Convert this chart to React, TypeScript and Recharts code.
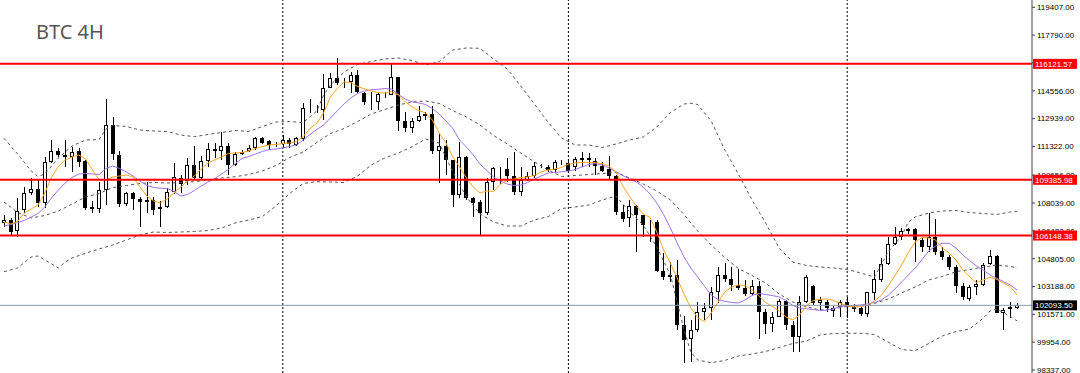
import React from "react";
import { ComposedChart, Bar, Line, XAxis, YAxis, ReferenceLine } from "recharts";

// BTC 4H candles (oldest first)
const open = [
  106877, 107022, 106383, 107632, 108602, 108835, 108039, 110438, 111077, 110827,
  110711, 111077, 110479, 107789, 107673, 108765, 112570, 110827, 107963, 108620,
  108254, 108097, 108213, 107673, 107808, 108660, 109462, 109288, 110246, 109491,
  110496, 111176, 111077, 111350, 110246, 110874, 111059, 111216, 111797, 111640,
  111466, 111437, 111716, 111408, 111785, 113540, 113499, 113441, 114748, 115283,
  114992, 115050, 115474, 114411, 113923, 113906, 114370, 114341, 115341, 112773,
  112413, 112820, 113075, 113180, 111071, 111367, 110537, 108503, 110711, 108312,
  108079, 107475, 109276, 110055, 109985, 109590, 108695, 109375, 109578, 110188,
  110147, 109938, 110403, 110375, 110130, 110635, 110635, 110496, 110188, 109996,
  109607, 107533, 107150, 107865, 107342, 106860, 106952, 104106, 103723, 103856,
  100952, 100138, 100661, 101724, 101922, 102886, 103856, 103595, 103304, 103101,
  102735, 103217, 101707, 101010, 101434, 102346, 100952, 100254, 102305, 103188,
  102201, 102288, 101736, 102026, 102270, 102015, 101922, 101591, 102794, 103566,
  104495, 105657, 106081, 106395, 106511, 105890, 105500, 106046, 105251, 104920,
  104338, 103217, 102445, 103142, 103258, 104495, 104960, 101631, 101852, 101922,
];
const high = [
  107342, 107150, 108329, 108986, 109474, 109375, 110711, 111698, 111216, 111698,
  111309, 111216, 110537, 108155, 109259, 114051, 113034, 111088, 108695, 108695,
  108405, 109276, 108405, 108155, 108893, 110345, 109665, 110635, 111350, 110769,
  111507, 111507, 112163, 111495, 111001, 111118, 111408, 111890, 111890, 111698,
  111582, 111989, 111797, 111873, 113830, 114080, 113732, 115521, 115573, 116444,
  115317, 115620, 115765, 114504, 114458, 114504, 114504, 116142, 115376, 113325,
  112959, 113656, 113342, 113656, 112088, 111698, 110560, 111600, 110740, 108405,
  108184, 109462, 110147, 110101, 110653, 111030, 110113, 109840, 110438, 110333,
  110246, 110537, 110537, 110537, 110682, 111019, 110926, 110635, 110438, 110769,
  109665, 107923, 108213, 107923, 107360, 107051, 107051, 105152, 104629, 104728,
  101475, 101242, 102305, 102212, 103177, 104321, 104536, 104321, 104187, 103566,
  103566, 103508, 101881, 101724, 102445, 102404, 101184, 102636, 103856, 103275,
  102596, 102404, 102055, 102404, 102596, 102172, 102015, 102886, 104147, 104826,
  106081, 106662, 106569, 106587, 106569, 106081, 107475, 107092, 105483, 105018,
  104437, 103374, 103275, 103566, 104536, 105309, 105018, 101922, 102305, 102212,
];
const low = [
  106662, 106180, 106081, 107440, 108503, 107824, 107731, 110345, 110728, 110147,
  109857, 110147, 107632, 107440, 107440, 107923, 110537, 107824, 107882, 107632,
  106662, 107440, 107342, 106662, 107731, 108562, 108602, 109084, 109346, 109375,
  110147, 110635, 110537, 109665, 110159, 110798, 111001, 111118, 111437, 111118,
  111292, 111216, 111216, 111321, 111669, 113249, 113249, 112860, 114702, 114893,
  114702, 114400, 114411, 113732, 113470, 113441, 114121, 114312, 112250, 112134,
  112088, 112761, 112860, 110897, 109183, 109694, 107835, 108312, 108213, 107243,
  106180, 107342, 108794, 109142, 109276, 108503, 108474, 109317, 109474, 110043,
  109857, 109857, 110246, 109764, 109869, 110147, 110147, 109665, 109857, 109375,
  107342, 106952, 106627, 105210, 106081, 105791, 104048, 103566, 103467, 100661,
  98762, 98820, 100562, 101242, 101242, 102212, 103467, 102927, 102985, 102636,
  102694, 100138, 100429, 100562, 101399, 100661, 99383, 99401, 102212, 102114,
  101823, 101724, 101434, 101434, 101341, 101724, 101475, 101434, 102404, 103467,
  104437, 105599, 105890, 106238, 104629, 105210, 105210, 105018, 104728, 104147,
  102793, 102404, 102363, 102694, 103217, 104420, 101631, 100661, 101341, 101863,
];
const close = [
  107022, 106372, 107574, 108602, 108835, 108021, 110438, 111077, 110798, 110711,
  111001, 110438, 107731, 107673, 108765, 112570, 110856, 107963, 108620, 108254,
  108097, 108213, 107632, 107824, 108660, 109520, 109171, 110246, 109462, 110496,
  111176, 111077, 111332, 110246, 110874, 111019, 111216, 111797, 111524, 111379,
  111379, 111698, 111437, 111797, 113540, 113499, 113412, 114748, 115283, 114992,
  115050, 115474, 114504, 113923, 113888, 114370, 114341, 115341, 112802, 112413,
  112820, 113075, 113180, 111071, 111367, 110537, 108503, 110711, 108312, 108039,
  107440, 109276, 110055, 109985, 109590, 108695, 109375, 109578, 110188, 110147,
  109938, 110403, 110420, 109915, 110577, 110537, 110508, 110159, 109915, 109607,
  107533, 107109, 107865, 107342, 106761, 106952, 104106, 103723, 103856, 100952,
  100080, 100661, 101724, 101922, 102886, 103856, 103595, 103275, 103072, 102735,
  103217, 101707, 101010, 101434, 102346, 100952, 100237, 102305, 103723, 102212,
  102404, 101922, 101939, 102259, 101997, 101852, 101573, 102840, 103607, 104495,
  105657, 106081, 106412, 106511, 105890, 105465, 106064, 105210, 104902, 104338,
  103217, 102596, 103142, 103316, 104437, 104960, 101666, 101823, 101979, 102093.5,
];

// orange (fast) and purple (slow) moving averages, one reading per candle
const maFast = [
  106935, 106819, 106964, 107458, 107690, 107923, 108620, 109549, 110159, 110537,
  110711, 110827, 110595, 109956, 109375, 109375, 109549, 109607, 109665, 109549,
  108968, 108445, 108155, 108039, 108271, 108620, 108968, 109317, 109607, 110014,
  110362, 110537, 110711, 110914, 110943, 110972, 111059, 111205, 111321, 111408,
  111437, 111495, 111524, 111600, 111890, 112378, 112668, 113267, 114196, 114690,
  115068, 115039, 114806, 114661, 114545, 114458, 114429, 114504, 114312, 113923,
  113615, 113412, 113267, 112860, 112105, 111524, 110711, 110130, 109491, 108968,
  108620, 108736, 108707, 109142, 109346, 109433, 109520, 109549, 109636, 109840,
  109956, 110014, 110101, 110304, 110362, 110403, 110391, 110380, 110333, 110188,
  109840, 109026, 108416, 107865, 107400, 107196, 106354, 105309, 104536, 103682,
  102752, 101939, 101387, 101143, 101649, 102288, 102869, 103159, 103275, 103246,
  102985, 102665, 102259, 102026, 101765, 101416, 101242, 101533, 102055, 102375,
  102445, 102462, 102375, 102201, 102073, 101997, 102015, 102114, 102346, 102665,
  103217, 103798, 104437, 105163, 105773, 106035, 106006, 105890, 105425, 105134,
  104728, 104147, 103740, 103421, 103566, 103723, 103607, 103374, 103177, 102694,
];
const maSlow = [
  106703, 106790, 106906, 107022, 107225, 107429, 107806, 108329, 108794, 109200,
  109520, 109723, 109752, 109723, 109694, 110043, 110188, 110043, 109840, 109607,
  109317, 109055, 108939, 108893, 108881, 108707, 108445, 108533, 108765, 109026,
  109259, 109462, 109723, 109985, 110333, 110624, 110740, 110885, 111030, 111147,
  111176, 111234, 111321, 111408, 111698, 112018, 112308, 112570, 112976, 113383,
  113790, 114138, 114400, 114545, 114620, 114644, 114690, 114661, 114341, 114080,
  113923, 113848, 113761, 113528, 113209, 112802, 112366, 111698, 111292, 110827,
  110304, 109927, 109549, 109317, 109142, 109055, 109084, 109230, 109433, 109607,
  109781, 109810, 109857, 109898, 109985, 110130, 110275, 110333, 110246, 110072,
  109857, 109636, 109433, 109259, 108968, 108562, 108039, 107371, 106586, 105715,
  104902, 104263, 103740, 103217, 102694, 102433, 102328, 102259, 102230, 102404,
  102665, 102782, 102723, 102665, 102578, 102375, 102084, 101939, 101893, 101852,
  101794, 101811, 101899, 102026, 102055, 102084, 102114, 102172, 102259, 102404,
  102665, 103043, 103450, 103856, 104263, 104757, 105250, 105541, 105698, 105698,
  105425, 105018, 104699, 104379, 104147, 103856, 103665, 103467, 103275, 102985,
];

// Bollinger bands, read at [candle, price] points
const bbUpper = [
  [0, 111797], [2, 110885], [4, 109898], [5, 109578], [6, 109723], [8, 110653], [10, 111350],
  [12, 111698], [14, 111727], [15, 112337], [16, 112541], [18, 112483], [20, 112279], [22, 112221],
  [24, 112192], [26, 111989], [28, 111890], [30, 112018], [32, 112134], [34, 112250], [36, 112192],
  [38, 112483], [40, 112744], [42, 112773], [44, 112715], [46, 113383], [47, 114312], [48, 114893],
  [50, 115649], [52, 116084], [54, 116258], [56, 116404], [58, 116462], [60, 116316], [62, 116055],
  [64, 116247], [66, 116926], [68, 117043], [70, 117025], [72, 116404], [74, 115823], [76, 114835],
  [78, 113790], [80, 112744], [82, 111815], [84, 111408], [86, 111408], [88, 111263], [90, 111466],
  [92, 111698], [94, 111873], [96, 112454], [98, 113296], [100, 113790], [101, 113830], [102, 113761],
  [104, 112802], [106, 111118], [108, 109723], [110, 108213], [112, 106877], [114, 105425],
  [116, 104611], [118, 104408], [120, 104321], [122, 104263], [124, 104176], [126, 103972],
  [128, 103740], [129, 104437], [130, 105192], [132, 106122], [133, 106935], [134, 107225],
  [136, 107458], [138, 107574], [140, 107603], [142, 107487], [144, 107429], [146, 107371],
  [148, 107516], [149, 107545],
];
const bbMiddle = [
  [0, 108097], [2, 107487], [4, 107167], [6, 107313], [8, 107574], [10, 107981], [12, 108387],
  [14, 108591], [16, 108939], [18, 109055], [20, 109171], [22, 109230], [24, 109200], [26, 109230],
  [28, 109276], [30, 109375], [32, 109491], [34, 109566], [36, 109694], [38, 109898], [40, 110217],
  [42, 110682], [44, 111001], [46, 111553], [48, 112076], [50, 112366], [52, 112773], [54, 113209],
  [56, 113470], [58, 113732], [60, 113906], [62, 113964], [64, 113819], [66, 113412], [68, 113034],
  [70, 112570], [72, 111960], [74, 111466], [76, 110943], [78, 110420], [80, 109956], [82, 109578],
  [84, 109636], [86, 109694], [88, 109752], [90, 109811], [92, 109491], [94, 109142], [96, 108736],
  [98, 108213], [100, 107371], [102, 106412], [104, 105599], [106, 104873], [108, 104234],
  [110, 103827], [112, 103392], [114, 102752], [116, 102288], [118, 102015], [120, 101823],
  [122, 101881], [124, 102038], [126, 102055], [128, 102201], [130, 102462], [132, 102811],
  [134, 103159], [136, 103566], [138, 103769], [140, 104048], [142, 104176], [144, 104303],
  [146, 104437], [148, 104350], [149, 104263],
];
const bbLower = [
  [0, 104048], [2, 104263], [4, 104902], [5, 104960], [6, 104728], [8, 104263], [9, 104611],
  [10, 104844], [12, 105117], [14, 105367], [16, 105599], [18, 105890], [20, 106180], [22, 106354],
  [24, 106325], [26, 106354], [28, 106383], [30, 106441], [32, 106587], [34, 106877], [36, 107051],
  [38, 107254], [40, 107865], [42, 108591], [44, 109171], [46, 109276], [48, 109259], [50, 109230],
  [52, 109607], [54, 110246], [56, 110653], [58, 110943], [60, 111309], [62, 111756], [64, 111524],
  [66, 109840], [68, 108387], [70, 107400], [72, 106935], [74, 106703], [76, 106703], [78, 107051],
  [80, 107243], [82, 107719], [84, 107806], [86, 107923], [88, 108213], [90, 108445], [92, 107516],
  [94, 106761], [96, 105483], [98, 103856], [99, 102288], [100, 100661], [101, 99383], [102, 98919],
  [104, 98762], [106, 98890], [108, 99151], [110, 99267], [112, 99412], [114, 99645], [116, 99877],
  [118, 100022], [120, 100371], [122, 100458], [124, 100470], [126, 100470], [128, 100400],
  [130, 99964], [132, 99528], [134, 99459], [136, 99877], [138, 100313], [140, 100574],
  [142, 100719], [144, 101341], [145, 101765], [146, 101881], [148, 101445], [149, 101184],
];

const levels = [116121.57, 109385.98, 106148.38];
const lastPrice = 102093.5;
const separators = [41, 83, 124];
const priceTicks = [
  98337, 99954, 101571, 103188, 104805, 106422, 108039, 109656, 111322, 112939, 114556, 116173,
  117790, 119407,
];
const priceDomain = [98163, 119831];

const rows: any[] = open.map((o, i) => ({
  i,
  open: o,
  high: high[i],
  low: low[i],
  close: close[i],
  range: [low[i], high[i]],
  fast: maFast[i],
  slow: maSlow[i],
  up: null,
  mid: null,
  dn: null,
}));
bbUpper.forEach(([i, v]) => (rows[i].up = v));
bbMiddle.forEach(([i, v]) => (rows[i].mid = v));
bbLower.forEach(([i, v]) => (rows[i].dn = v));

const FONT = "Liberation Sans, Arial, sans-serif";

function Candle(props: any) {
  const { x, y, width, height, payload } = props;
  const top = Math.min(y, y + height);
  const bot = Math.max(y, y + height);
  const span = payload.high - payload.low || 1;
  const toY = (v: number) => top + ((payload.high - v) / span) * (bot - top);
  const cx = Math.round(x + width / 2);
  const yo = toY(payload.open);
  const yc = toY(payload.close);
  const bt = Math.round(Math.min(yo, yc));
  const bb = Math.max(Math.round(Math.max(yo, yc)), bt + 1);
  const bull = payload.close >= payload.open;
  return (
    <g>
      <line x1={cx + 0.5} x2={cx + 0.5} y1={Math.round(top)} y2={Math.round(bot)} stroke="#000" strokeWidth={1} />
      <rect
        x={cx - 1.5}
        y={bt + 0.5}
        width={3}
        height={Math.max(bb - bt - 1, 0)}
        fill={bull ? "#fff" : "#000"}
        stroke="#000"
        strokeWidth={1}
      />
    </g>
  );
}

// price tag drawn at the right end of a horizontal line
const tag = (text: string, bg: string) => (p: any) => {
  const vb = p.viewBox || {};
  const x = vb.x + vb.width + 1;
  const y = vb.y;
  return (
    <g>
      <rect x={x} y={y - 5} width={44} height={10} fill={bg} />
      <text x={x + 2} y={y + 3} fontSize={8} fill="#fff" fontFamily={FONT}>
        {text}
      </text>
    </g>
  );
};

export default function App() {
  return (
    <div style={{ position: "absolute", left: 0, top: 0, width: 1080, height: 373, background: "#fff" }}>
      <ComposedChart width={1080} height={373} data={rows} margin={{ top: 0, right: 0, bottom: 0, left: 0 }}>
        <XAxis dataKey="i" hide height={0} padding={{ left: 0.6, right: 11.4 }} />
        <YAxis
          orientation="right"
          width={48}
          type="number"
          domain={priceDomain}
          allowDataOverflow
          ticks={priceTicks}
          interval={0}
          tickFormatter={(v: number) => v.toFixed(2)}
          tick={{ fontSize: 8, fill: "#000", fontFamily: FONT }}
          tickSize={3}
          tickMargin={2}
          axisLine={{ stroke: "#444" }}
          tickLine={{ stroke: "#444" }}
        />
        {separators.map((s) => (
          <ReferenceLine key={"sep" + s} x={s} stroke="#000" strokeDasharray="2 2" strokeWidth={1} />
        ))}
        <Bar dataKey="range" shape={<Candle />} isAnimationActive={false} />
        <Line dataKey="up" stroke="#555" strokeDasharray="3 3" strokeWidth={1} dot={false} activeDot={false} connectNulls isAnimationActive={false} />
        <Line dataKey="mid" stroke="#555" strokeDasharray="3 3" strokeWidth={1} dot={false} activeDot={false} connectNulls isAnimationActive={false} />
        <Line dataKey="dn" stroke="#555" strokeDasharray="3 3" strokeWidth={1} dot={false} activeDot={false} connectNulls isAnimationActive={false} />
        <Line dataKey="slow" stroke="#a070e8" strokeWidth={1} dot={false} activeDot={false} isAnimationActive={false} />
        <Line dataKey="fast" stroke="#ffa520" strokeWidth={1} dot={false} activeDot={false} isAnimationActive={false} />
        <ReferenceLine y={lastPrice} stroke="#8a9bb0" strokeWidth={1} />
        {levels.map((v) => (
          <ReferenceLine key={"lvl" + v} y={v} stroke="#ff0000" strokeWidth={2} />
        ))}
      </ComposedChart>
      {/* tags layer, same scale, drawn above the axis labels */}
      <div style={{ position: "absolute", left: 0, top: 0, pointerEvents: "none" }}>
        <ComposedChart width={1080} height={373} data={rows} margin={{ top: 0, right: 48, bottom: 0, left: 0 }}>
          <XAxis dataKey="i" hide height={0} />
          <YAxis hide width={0} type="number" domain={priceDomain} allowDataOverflow />
          <ReferenceLine y={lastPrice} stroke="none" label={tag(lastPrice.toFixed(2), "#000")} />
          {levels.map((v) => (
            <ReferenceLine key={"tag" + v} y={v} stroke="none" label={tag(v.toFixed(2), "#ff0000")} />
          ))}
        </ComposedChart>
      </div>
      <div
        style={{
          position: "absolute",
          left: 36,
          top: 22,
          fontFamily: "Noto Sans, sans-serif",
          fontSize: 20,
          lineHeight: "20px",
          color: "#555",
          whiteSpace: "nowrap",
        }}
      >
        BTC 4H
      </div>
    </div>
  );
}
